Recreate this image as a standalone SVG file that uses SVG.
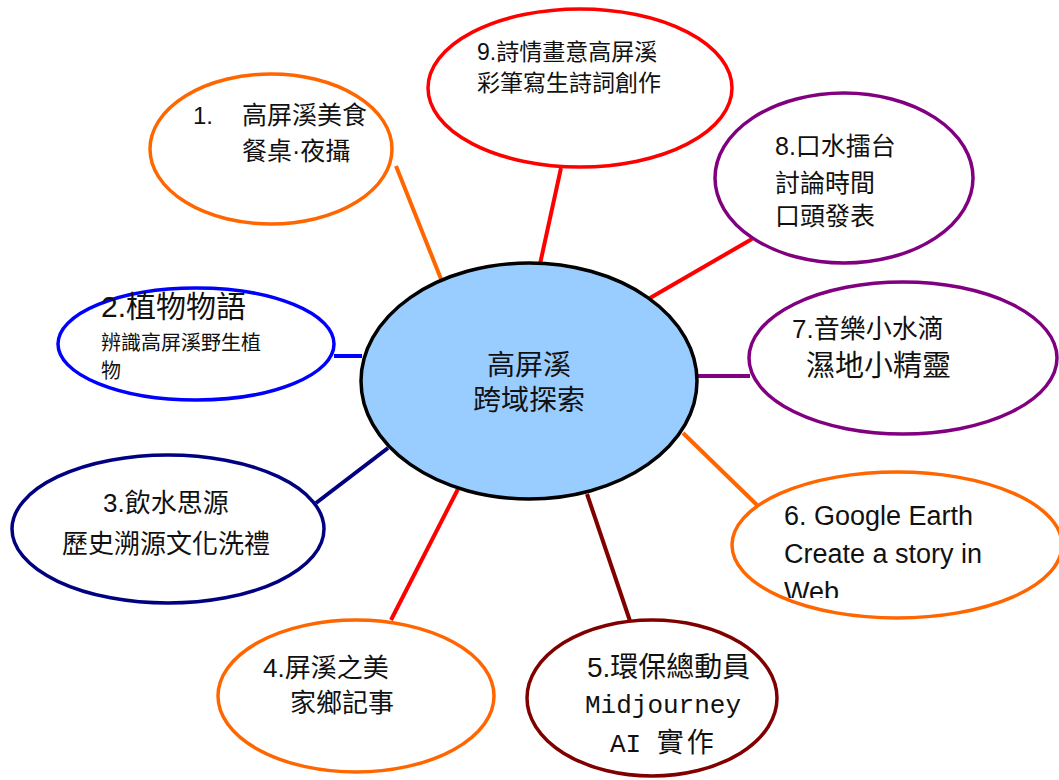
<svg xmlns="http://www.w3.org/2000/svg" width="1059" height="780" viewBox="0 0 1059 780">
<defs>
<style>
.n{fill:#fff;stroke-width:3.5}
.t{font-family:"Liberation Sans","Noto Sans CJK TC",sans-serif;fill:#111}
.c{fill:none;stroke-width:4}
</style>
<clipPath id="clip6"><rect x="700" y="460" width="359" height="138"/></clipPath>
</defs>
<rect width="1059" height="780" fill="#fff"/>
<g id="connectors">
<line class="c" x1="396" y1="166" x2="441" y2="279" stroke="#FF6600"/>
<line class="c" x1="561" y1="168" x2="540" y2="264" stroke="#FF0000"/>
<line class="c" x1="650" y1="298" x2="752" y2="239" stroke="#FF0000"/>
<line class="c" x1="697" y1="376" x2="750" y2="376" stroke="#800080"/>
<line class="c" x1="683" y1="433" x2="757" y2="505" stroke="#FF6600"/>
<line class="c" x1="587" y1="494" x2="630" y2="621" stroke="#800000"/>
<line class="c" x1="458" y1="489" x2="391" y2="620" stroke="#FF0000"/>
<line class="c" x1="388" y1="448" x2="316" y2="503" stroke="#000080"/>
<line class="c" x1="334" y1="356" x2="362" y2="356" stroke="#0000FF"/>
</g>
<g id="center">
<ellipse cx="529" cy="381" rx="168" ry="118" fill="#99CCFF" stroke="#000" stroke-width="3.5"/>
<text class="t" x="529" y="375" font-size="28" text-anchor="middle">高屏溪</text>
<text class="t" x="529" y="410" font-size="28" text-anchor="middle">跨域探索</text>
</g>
<g id="node1">
<ellipse class="n" cx="271" cy="149" rx="121" ry="75" stroke="#FF6600"/>
<text class="t" x="193" y="124" font-size="24">1.</text>
<text class="t" x="242" y="124" font-size="25">高屏溪美食</text>
<text class="t" x="242" y="160" font-size="25">餐桌·夜攝</text>
</g>
<g id="node2">
<ellipse class="n" cx="196" cy="344" rx="138" ry="56" stroke="#0000FF"/>
<text class="t" x="101" y="317" font-size="30">2.植物物語</text>
<text class="t" x="101" y="350" font-size="20">辨識高屏溪野生植</text>
<text class="t" x="101" y="378" font-size="20">物</text>
</g>
<g id="node3">
<ellipse class="n" cx="168" cy="529" rx="156" ry="74" stroke="#000080"/>
<text class="t" x="103" y="512" font-size="26">3.飲水思源</text>
<text class="t" x="62" y="553" font-size="26">歷史溯源文化洗禮</text>
</g>
<g id="node4">
<ellipse class="n" cx="356" cy="696" rx="138" ry="76" stroke="#FF6600"/>
<text class="t" x="263" y="677" font-size="26">4.屏溪之美</text>
<text class="t" x="290" y="712" font-size="26">家鄉記事</text>
</g>
<g id="node5">
<ellipse class="n" cx="652" cy="698" rx="125" ry="78" stroke="#800000"/>
<text class="t" x="587" y="677" font-size="28">5.環保總動員</text>
<text x="585" y="713" font-size="26" font-family="'Liberation Mono',monospace" fill="#111">Midjourney</text>
<text x="610" y="752" font-size="26" font-family="'Liberation Mono',monospace" fill="#111">AI <tspan font-family="'Noto Sans CJK TC',sans-serif" font-size="27" letter-spacing="3">實作</tspan></text>
</g>
<g id="node6">
<ellipse class="n" cx="897" cy="545" rx="165" ry="73" stroke="#FF6600"/>
<g clip-path="url(#clip6)">
<text class="t" x="784" y="525" font-size="27">6. Google Earth</text>
<text class="t" x="784" y="563" font-size="27">Create a story in</text>
<text class="t" x="784" y="601" font-size="27">Web</text>
</g>
</g>
<g id="node7">
<ellipse class="n" cx="903" cy="358" rx="154" ry="76" stroke="#800080"/>
<text class="t" x="792" y="338" font-size="26">7.音樂小水滴</text>
<text class="t" x="806" y="376" font-size="29">濕地小精靈</text>
</g>
<g id="node8">
<ellipse class="n" cx="844" cy="178" rx="129" ry="85" stroke="#800080"/>
<text class="t" x="775" y="155" font-size="25">8.口水擂台</text>
<text class="t" x="775" y="192" font-size="25">討論時間</text>
<text class="t" x="775" y="225" font-size="25">口頭發表</text>
</g>
<g id="node9">
<ellipse class="n" cx="580" cy="88" rx="152" ry="79" stroke="#FF0000"/>
<text class="t" x="477" y="60" font-size="23">9.詩情畫意高屏溪</text>
<text class="t" x="477" y="91" font-size="23">彩筆寫生詩詞創作</text>
</g>
</svg>
